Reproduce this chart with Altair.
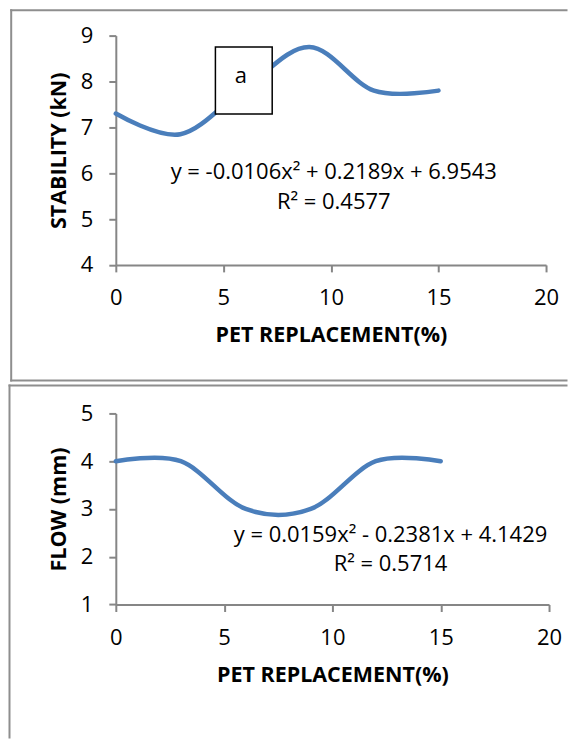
import altair as alt
import pandas as pd

# ---- data ----
pet = [0, 3, 6, 9, 12, 15]
stability = [7.3, 6.85, 7.85, 8.75, 7.8, 7.8]
flow = [4.0, 4.0, 3.0, 3.0, 4.0, 4.0]

x_ticks = [0, 5, 10, 15, 20]
stab_ticks = [4, 5, 6, 7, 8, 9]
flow_ticks = [1, 2, 3, 4, 5]

stab_eq = ["y = -0.0106x² + 0.2189x + 6.9543", "R² = 0.4577"]
stab_eq_x = [10.13, 10.13]
stab_eq_y = [6.03, 5.37]
flow_eq = ["y = 0.0159x² - 0.2381x + 4.1429", "R² = 0.5714"]
flow_eq_x = [12.68, 12.68]
flow_eq_y = [2.45, 1.84]

box_label = ["a"]
box_x = [4.63]
box_x2 = [7.27]
box_y = [7.29]
box_y2 = [8.75]
box_text_x = [5.81]
box_text_y = [8.125]

# ---- styling ----
FONT = "Open Sans"
AX = "#868686"
FR = "#8e8e8e"
BLUE = "#4A7EBB"
TOP_W, TOP_H = 431, 229.7
BOT_W, BOT_H = 434, 191.4

one = pd.DataFrame({"k": [0]})


def x_axis(width):
    return alt.Axis(values=x_ticks, title="PET REPLACEMENT(%)", grid=False,
                    domainColor=AX, domainWidth=2, tickColor=AX, tickWidth=2, tickSize=7,
                    labelFont=FONT, labelFontSize=22, labelColor="black", labelPadding=16,
                    labelFlush=False, labelOverlap=False,
                    titleFont=FONT, titleFontSize=21.5, titleFontWeight="bold", titleColor="black",
                    titleX=width / 2, titleY=71, titleBaseline="middle", titleAlign="center")


def y_axis(title, ticks, height):
    return alt.Axis(values=ticks, title=title, grid=False,
                    domainColor=AX, domainWidth=2, tickColor=AX, tickWidth=2, tickSize=7,
                    labelFont=FONT, labelFontSize=22, labelColor="black", labelPadding=16,
                    labelFlush=False, labelOverlap=False,
                    titleFont=FONT, titleFontSize=21.5, titleFontWeight="bold", titleColor="black",
                    titleX=-56, titleY=height / 2, titleAngle=270, titleBaseline="middle",
                    titleAlign="center")


def bar(x1, x2, y1, y2):
    # a thin filled rectangle used as a frame edge (exact bounds, no stroke)
    return alt.Chart(one).mark_rect(fill=FR, strokeWidth=0).encode(
        x=alt.value(x1), x2=alt.value(x2), y=alt.value(y1), y2=alt.value(y2))


def panel(yvals, ytitle, yticks, ydom, eq, eqx, eqy, w, h, frame_bars, with_box):
    df = pd.DataFrame({"pet": pet, "v": yvals})
    xs = alt.Scale(domain=[0, 20], nice=False)
    ys = alt.Scale(domain=ydom, nice=False)
    line = alt.Chart(df).mark_line(
        interpolate="cardinal", tension=0, strokeWidth=4.5, color=BLUE, strokeCap="round"
    ).encode(
        x=alt.X("pet:Q", scale=xs, axis=x_axis(w)),
        y=alt.Y("v:Q", scale=ys, axis=y_axis(ytitle, yticks, h)),
    )
    eqdf = pd.DataFrame({"t": eq, "x": eqx, "y": eqy})
    eqtext = alt.Chart(eqdf).mark_text(
        font=FONT, fontSize=22, color="black", align="center", baseline="middle"
    ).encode(x=alt.X("x:Q", scale=xs), y=alt.Y("y:Q", scale=ys), text="t:N")
    layers = [bar(*b) for b in frame_bars] + [line]
    if with_box:
        bdf = pd.DataFrame({"x": box_x, "x2": box_x2, "y": box_y, "y2": box_y2})
        rect = alt.Chart(bdf).mark_rect(fill="white", stroke="black", strokeWidth=1.5).encode(
            x=alt.X("x:Q", scale=xs), x2="x2:Q", y=alt.Y("y:Q", scale=ys), y2="y2:Q")
        tdf = pd.DataFrame({"t": box_label, "x": box_text_x, "y": box_text_y})
        btxt = alt.Chart(tdf).mark_text(
            font=FONT, fontSize=22, color="black", align="center", baseline="middle"
        ).encode(x=alt.X("x:Q", scale=xs), y=alt.Y("y:Q", scale=ys), text="t:N")
        layers += [rect, btxt]
    layers.append(eqtext)
    return alt.layer(*layers).properties(width=w, height=h)


# frame edges, in pixels relative to each plot area's top-left corner
top_frame = [
    (-105.8, 452.5, -26.3, -24.3),   # top edge
    (-105.8, -103.8, -26.3, 346.5),  # left edge
    (-105.8, 452.5, 344.5, 346.5),   # bottom edge
]
bottom_frame = [
    (-107.5, 452.5, -29, -27),       # top edge
    (-107.5, -105.5, -29, 325.7),    # left edge
]

top = panel(stability, "STABILITY (kN)", stab_ticks, [4, 9], stab_eq, stab_eq_x, stab_eq_y,
            TOP_W, TOP_H, top_frame, True)
bottom = panel(flow, "FLOW (mm)", flow_ticks, [1, 5], flow_eq, flow_eq_x, flow_eq_y,
               BOT_W, BOT_H, bottom_frame, False)

chart = alt.vconcat(top, bottom, spacing=2.5).properties(padding=0).configure_view(strokeWidth=0)

chart.save("out.html", embed_options={"renderer": "svg", "actions": False})
